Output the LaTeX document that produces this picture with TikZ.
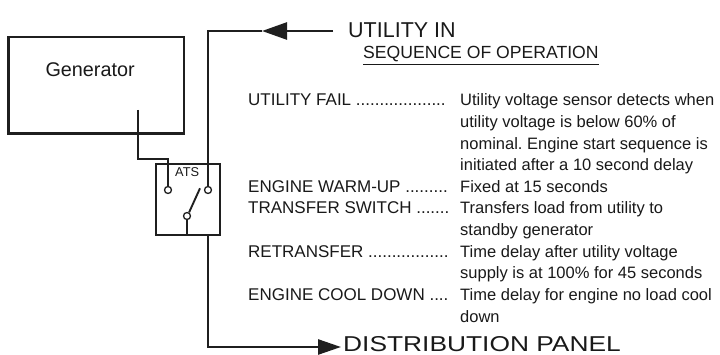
\documentclass[tikz,border=0pt]{standalone}
\usepackage{fontspec}
\setmainfont{Liberation Sans}
\usetikzlibrary{arrows.meta}
\frenchspacing
\begin{document}
\begin{tikzpicture}[x=1pt,y=-1pt,
  wire/.style={line width=2.6pt, draw=black!88},
  contact/.style={circle, draw=black!88, line width=1.3pt, minimum size=7pt, inner sep=0pt, fill=white},
  body/.style={anchor=base west, inner sep=0pt, font=\fontsize{16.5}{18}\selectfont, text=black!90},
  lbl/.style={anchor=base west, inner sep=0pt, font=\fontsize{17}{18}\selectfont, text=black!90},
  big/.style={anchor=base west, inner sep=0pt, font=\fontsize{21.5}{24}\selectfont, text=black!90},
  intip/.style={-{Triangle[length=25pt,width=17pt]}},
  outtip/.style={-{Triangle[length=23pt,width=15pt]}}
]
\useasboundingbox (0,0) rectangle (720,355);

% generator
\node[wire, draw, rectangle, inner sep=0pt, minimum width=175.7pt, minimum height=96.3pt] (gen) at (96.15,85.15) {};
\node[anchor=base west, inner sep=0pt, font=\fontsize{19.8}{22}\selectfont, text=black!90] (gentext) at (45.3,76.7) {Generator};

% ATS
\node[wire, draw, rectangle, inner sep=0pt, minimum width=64.3pt, minimum height=71pt] (ats) at (188,199.5) {};
\node[anchor=base west, inner sep=0pt, font=\fontsize{12.8}{14}\selectfont, text=black!90] (atstext) at (175,177) {ATS};

\coordinate (g0) at (138,110);
\coordinate (g1) at (138,159);
\coordinate (g2) at (168,159);
\coordinate (uend) at (333,31);
\coordinate (utip) at (262,31);
\coordinate (ucorner) at (208,31);
\coordinate (bladeEnd) at (200,188.3);
\coordinate (dcorner) at (208,347);
\coordinate (dtip) at (341,347);

\node[contact] (cL) at (168,190) {};
\node[contact] (cR) at (208,190) {};
\node[contact] (cB) at (187,216) {};

\draw[wire] (g0) -- (g1) -- (g2) -- (cL.north);
\draw[wire, intip] (uend) -- (utip);
\draw[wire] (utip) -- (ucorner) -- (cR.north);
\draw[wire, line width=1.9pt] (cB.60) -- (bladeEnd);
\draw[wire] (cB.south) -- (cB.south |- ats.south);
\draw[wire, outtip] (ats.south -| cR) -- (dcorner) -- (dtip);

% labels
\node[big] (uin) at (348,37.7) {UTILITY IN};
\node[big] (dist) at (343,351) {\scalebox{1.225}[1]{DISTRIBUTION PANEL}};
\node[anchor=base west, inner sep=0pt, font=\fontsize{17.6}{20}\selectfont, text=black!90] (title) at (363,59) {\underline{SEQUENCE OF OPERATION}};

% sequence
\node[lbl] (l1) at (248,106.0) {UTILITY FAIL ...................};
\node[body] (d1a) at (460,106.0) {Utility voltage sensor detects when};
\node[body] (d1b) at (460,127.6) {utility voltage is below 60\% of};
\node[body] (d1c) at (460,149.2) {nominal. Engine start sequence is};
\node[body] (d1d) at (460,170.8) {initiated after a 10 second delay};
\node[lbl] (l2) at (248,192.4) {ENGINE WARM-UP .........};
\node[body] (d2) at (460,192.4) {Fixed at 15 seconds};
\node[lbl] (l3) at (248,214.0) {TRANSFER SWITCH .......};
\node[body] (d3a) at (460,214.0) {Transfers load from utility to};
\node[body] (d3b) at (460,235.6) {standby generator};
\node[lbl] (l4) at (248,257.2) {RETRANSFER .................};
\node[body] (d4a) at (460,257.2) {Time delay after utility voltage};
\node[body] (d4b) at (460,278.8) {supply is at 100\% for 45 seconds};
\node[lbl] (l5) at (248,300.4) {ENGINE COOL DOWN ....};
\node[body] (d5a) at (460,300.4) {Time delay for engine no load cool};
\node[body] (d5b) at (460,322.0) {down};
\end{tikzpicture}
\end{document}
